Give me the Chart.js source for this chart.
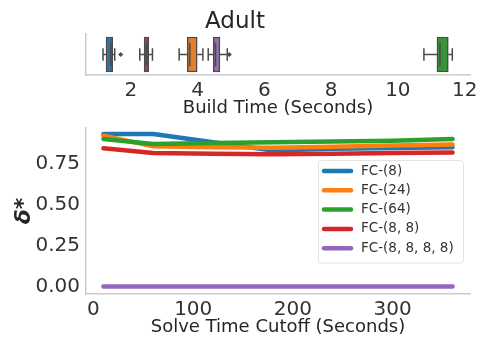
<!DOCTYPE html>
<html>
<head>
<meta charset="utf-8">
<title>Adult</title>
<script src="https://cdn.jsdelivr.net/npm/chart.js@4.4.1/dist/chart.umd.min.js"></script>
<style>
  html, body { margin: 0; padding: 0; background: #fff; }
  #wrap { position: relative; width: 483px; height: 343px; }
  #top { position: absolute; left: 0; top: 0; }
  #bottom { position: absolute; left: 0; top: 120px; }
</style>
</head>
<body>
<div id="wrap">
  <canvas id="top" width="483" height="120"></canvas>
  <canvas id="bottom" width="483" height="223"></canvas>
</div>
<script>
// models (same order as the legend)
const models = ["FC-(8)", "FC-(24)", "FC-(64)", "FC-(8, 8)", "FC-(8, 8, 8, 8)"];
const lineColors = ["#1f77b4", "#ff7f0e", "#2ca02c", "#d62728", "#9467bd"];
const boxColors = ["#3274a1", "#e1812c", "#3a923a", "#c03d3e", "#9372b2"];

// build time box plots (seconds)
const buildLow = [1.17, 3.45, 10.78, 2.27, 4.32];
const buildQ1 = [1.26, 3.69, 11.17, 2.40, 4.47];
const buildMedian = [1.40, 3.77, 11.26, 2.47, 4.54];
const buildQ3 = [1.46, 3.99, 11.51, 2.54, 4.67];
const buildHigh = [1.52, 4.16, 11.63, 2.65, 4.89];
const buildOutliers = [[1.70], [], [], [], [4.95]];
const buildTicks = [2, 4, 6, 8, 10, 12];

// delta* against solve time cutoff
const cutoffs = [10, 60, 120, 180, 240, 300, 360];
const deltaFC8 = [0.93, 0.93, 0.88, 0.83, 0.84, 0.845, 0.85];
const deltaFC24 = [0.92, 0.855, 0.85, 0.847, 0.853, 0.86, 0.867];
const deltaFC64 = [0.90, 0.87, 0.875, 0.88, 0.885, 0.89, 0.90];
const deltaFC88 = [0.843, 0.815, 0.81, 0.807, 0.81, 0.815, 0.818];
const deltaFC8888 = [0, 0, 0, 0, 0, 0, 0];
const cutoffTicks = [0, 100, 200, 300];
const deltaTicks = [0, 0.25, 0.5, 0.75];

Chart.defaults.font.family = "'DejaVu Sans', sans-serif";
Chart.defaults.color = "#333";

const textColor = "#262626";
const spine = "#cccccc";
const edge = "#4a4a4a";
const capHalf = 0.23;
const boxHalf = 0.43;

// ---- top panel: horizontal box plots
const topSets = [];
models.forEach((m, i) => {
    topSets.push({
        type: "bar",
        label: m,
        indexAxis: "y",
        grouped: false,
        data: [{ x: [buildQ1[i], buildQ3[i]], y: 0 }],
        backgroundColor: boxColors[i],
        borderColor: edge,
        borderWidth: 1.5,
        borderSkipped: false,
        barThickness: 35,
        order: 2
    });
    const gap = { x: buildMedian[i], y: null };
    topSets.push({
        type: "line",
        data: [
            { x: buildLow[i], y: -capHalf }, { x: buildLow[i], y: capHalf }, gap,
            { x: buildLow[i], y: 0 }, { x: buildQ1[i], y: 0 }, gap,
            { x: buildQ3[i], y: 0 }, { x: buildHigh[i], y: 0 }, gap,
            { x: buildHigh[i], y: -capHalf }, { x: buildHigh[i], y: capHalf }, gap,
            { x: buildMedian[i], y: -boxHalf }, { x: buildMedian[i], y: boxHalf }
        ],
        borderColor: edge,
        borderWidth: 1.5,
        pointRadius: 0,
        spanGaps: false,
        order: 1
    });
    if (buildOutliers[i].length) {
        topSets.push({
            type: "scatter",
            data: buildOutliers[i].map(v => ({ x: v, y: 0 })),
            pointStyle: "rectRot",
            pointRadius: 2,
            backgroundColor: edge,
            borderColor: edge,
            order: 0
        });
    }
});

new Chart(document.getElementById("top"), {
    type: "bar",
    data: { datasets: topSets },
    options: {
        responsive: false,
        animation: false,
        layout: { padding: { right: 13 } },
        plugins: {
            legend: { display: false },
            tooltip: { enabled: false },
            title: {
                display: true,
                text: "Adult",
                color: textColor,
                font: { size: 23, weight: "normal", lineHeight: 1 },
                padding: { top: 11, bottom: 0 }
            }
        },
        scales: {
            x: {
                type: "linear",
                offset: false,
                min: 0.66,
                max: 12.16,
                afterBuildTicks: s => { s.ticks = buildTicks.map(v => ({ value: v })); },
                afterFit: s => { s.height = 45; },
                grid: { display: false, drawTicks: false },
                border: { color: spine, width: 1.5 },
                ticks: { font: { size: 20 }, padding: 4, autoSkip: false, maxRotation: 0 },
                title: {
                    display: true,
                    text: "Build Time (Seconds)",
                    color: textColor,
                    font: { size: 18 },
                    padding: { top: 0, bottom: 1 }
                }
            },
            y: {
                type: "linear",
                min: -0.5,
                max: 0.5,
                afterFit: s => { s.width = 86; s.paddingTop = 0; s.paddingBottom = 0; },
                grid: { display: false, drawTicks: false },
                border: { color: spine, width: 1.5 },
                ticks: { display: false }
            }
        }
    }
});

// ---- bottom panel: delta* lines with a boxed legend
const deltaSeries = [deltaFC8, deltaFC24, deltaFC64, deltaFC88, deltaFC8888];

const legendBox = {
    id: "legendBox",
    afterDraw(chart) {
        const { ctx, chartArea } = chart;
        const sets = chart.data.datasets;
        const rowH = 19.3;
        const w = 145;
        const h = rowH * sets.length + 6;
        const x0 = chartArea.right - w - 7;
        const y0 = chartArea.top + 32;
        ctx.save();
        ctx.fillStyle = "rgba(255,255,255,0.85)";
        ctx.strokeStyle = "#e3e3e3";
        ctx.lineWidth = 1;
        ctx.beginPath();
        ctx.roundRect(x0 + 0.5, y0 + 0.5, w, h, 3);
        ctx.fill();
        ctx.stroke();
        ctx.font = "13.5px 'DejaVu Sans', sans-serif";
        ctx.textBaseline = "middle";
        ctx.textAlign = "left";
        sets.forEach((ds, i) => {
            const y = y0 + 11 + i * rowH;
            ctx.strokeStyle = ds.borderColor;
            ctx.lineWidth = 4.5;
            ctx.lineCap = "round";
            ctx.beginPath();
            ctx.moveTo(x0 + 6, y);
            ctx.lineTo(x0 + 33, y);
            ctx.stroke();
            ctx.fillStyle = "#333";
            ctx.fillText(ds.label, x0 + 43, y);
        });
        ctx.restore();
    }
};

new Chart(document.getElementById("bottom"), {
    type: "line",
    data: {
        datasets: models.map((m, i) => ({
            label: m,
            data: cutoffs.map((c, j) => ({ x: c, y: deltaSeries[i][j] })),
            borderColor: lineColors[i],
            backgroundColor: lineColors[i],
            borderWidth: 4.5,
            pointRadius: 0,
            borderCapStyle: "round",
            borderJoinStyle: "round",
            order: models.length - i
        }))
    },
    options: {
        responsive: false,
        animation: false,
        layout: { padding: { top: 8, right: 13 } },
        plugins: {
            legend: { display: false },
            tooltip: { enabled: false }
        },
        scales: {
            x: {
                type: "linear",
                min: -7.5,
                max: 377.5,
                afterBuildTicks: s => { s.ticks = cutoffTicks.map(v => ({ value: v })); },
                afterFit: s => { s.height = 49; },
                grid: { display: false, drawTicks: false },
                border: { color: spine, width: 1.5 },
                ticks: { font: { size: 20 }, padding: 4, autoSkip: false, maxRotation: 0 },
                title: {
                    display: true,
                    text: "Solve Time Cutoff (Seconds)",
                    color: textColor,
                    font: { size: 18 },
                    padding: { top: 0, bottom: 5 }
                }
            },
            y: {
                type: "linear",
                min: -0.045,
                max: 0.967,
                afterBuildTicks: s => { s.ticks = deltaTicks.map(v => ({ value: v })); },
                afterFit: s => { s.width = 86; s.paddingTop = 0; s.paddingBottom = 0; },
                grid: { display: false, drawTicks: false },
                border: { color: spine, width: 1.5 },
                ticks: { font: { size: 20 }, padding: 6, autoSkip: false, callback: v => v.toFixed(2) },
                title: {
                    display: true,
                    text: "δ*",
                    color: textColor,
                    font: { size: 22, weight: "bold", style: "italic" },
                    padding: { top: 11, bottom: 0 }
                }
            }
        }
    },
    plugins: [legendBox]
});
</script>
</body>
</html>
